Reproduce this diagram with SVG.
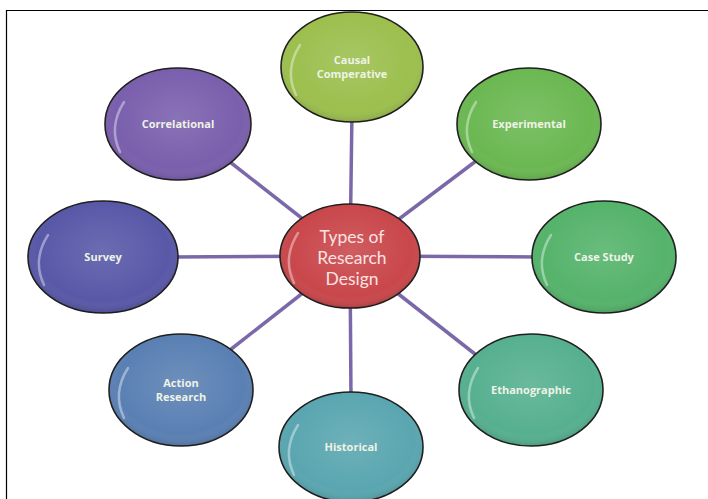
<svg xmlns="http://www.w3.org/2000/svg" width="708" height="499" viewBox="0 0 708 499">
<style>
.n{stroke:#1e1e1e;stroke-width:1.6}
.t{font-family:"Open Sans","Liberation Sans",sans-serif;font-weight:bold;font-size:11px;fill:#eef3e6;text-anchor:middle}
.c{font-family:Lato,"Liberation Sans",sans-serif;font-size:17.5px;fill:#fbe3e3;text-anchor:middle}
.hl{fill:none;stroke:#ffffff;stroke-opacity:0.4;stroke-width:2.5;stroke-linecap:round}
.ln{stroke:#7a68a8;stroke-width:3.5}
</style>
<defs>
<radialGradient id="g" cx="50%" cy="45%" r="55%">
<stop offset="0" stop-color="#fff" stop-opacity="0.12"/>
<stop offset="0.8" stop-color="#fff" stop-opacity="0"/>
<stop offset="1" stop-color="#000" stop-opacity="0.12"/>
</radialGradient>
</defs>
<rect width="708" height="499" fill="#ffffff"/>
<path d="M6.5 499 V10.5 H708" fill="none" stroke="#000" stroke-width="1.2"/>
<g id="connectors">
<line class="ln" x1="350" y1="256" x2="352" y2="110"/>
<line class="ln" x1="350" y1="256" x2="480" y2="158"/>
<line class="ln" x1="350" y1="256" x2="540" y2="257"/>
<line class="ln" x1="350" y1="256" x2="480" y2="358"/>
<line class="ln" x1="350" y1="256" x2="351" y2="400"/>
<line class="ln" x1="350" y1="256" x2="230" y2="350"/>
<line class="ln" x1="350" y1="256" x2="170" y2="257"/>
<line class="ln" x1="350" y1="256" x2="230" y2="162"/>
</g>
<g id="causal">
<ellipse class="n" cx="352" cy="67" rx="71" ry="55" fill="#9cbf4e"/>
<ellipse cx="352" cy="67" rx="71" ry="55" fill="url(#g)"/>
<path class="hl" d="M296 95 Q284 70 300 45"/>
<text class="t" x="352" y="64">Causal</text>
<text class="t" x="352" y="78">Comperative</text>
</g>
<g id="experimental">
<ellipse class="n" cx="529" cy="124" rx="72" ry="56" fill="#6bb852"/>
<ellipse cx="529" cy="124" rx="72" ry="56" fill="url(#g)"/>
<path class="hl" d="M472 152 Q460 127 476 102"/>
<text class="t" x="529" y="128">Experimental</text>
</g>
<g id="casestudy">
<ellipse class="n" cx="604" cy="257" rx="72" ry="56" fill="#55b36b"/>
<ellipse cx="604" cy="257" rx="72" ry="56" fill="url(#g)"/>
<path class="hl" d="M547 285 Q535 260 551 235"/>
<text class="t" x="604" y="261">Case Study</text>
</g>
<g id="ethanographic">
<ellipse class="n" cx="531" cy="390" rx="72" ry="56" fill="#56b090"/>
<ellipse cx="531" cy="390" rx="72" ry="56" fill="url(#g)"/>
<path class="hl" d="M474 418 Q462 393 478 368"/>
<text class="t" x="531" y="394">Ethanographic</text>
</g>
<g id="historical">
<ellipse class="n" cx="351" cy="447" rx="72" ry="55" fill="#5aa6b0"/>
<ellipse cx="351" cy="447" rx="72" ry="55" fill="url(#g)"/>
<path class="hl" d="M294 475 Q282 450 298 425"/>
<text class="t" x="351" y="451">Historical</text>
</g>
<g id="action">
<ellipse class="n" cx="181" cy="390" rx="72" ry="56" fill="#5a80b3"/>
<ellipse cx="181" cy="390" rx="72" ry="56" fill="url(#g)"/>
<path class="hl" d="M124 418 Q112 393 128 368"/>
<text class="t" x="181" y="387">Action</text>
<text class="t" x="181" y="401">Research</text>
</g>
<g id="survey">
<ellipse class="n" cx="103" cy="257" rx="75" ry="56" fill="#5858a8"/>
<ellipse cx="103" cy="257" rx="75" ry="56" fill="url(#g)"/>
<path class="hl" d="M44 285 Q32 260 48 235"/>
<text class="t" x="103" y="261">Survey</text>
</g>
<g id="correlational">
<ellipse class="n" cx="178" cy="124" rx="73" ry="56" fill="#7a5fad"/>
<ellipse cx="178" cy="124" rx="73" ry="56" fill="url(#g)"/>
<path class="hl" d="M120 152 Q108 127 124 102"/>
<text class="t" x="178" y="128">Correlational</text>
</g>
<g id="center">
<ellipse class="n" cx="350" cy="256" rx="70" ry="52" fill="#c9474b"/>
<ellipse cx="350" cy="256" rx="70" ry="52" fill="url(#g)"/>
<path class="hl" d="M294 283 Q282 258 298 233"/>
<text class="c" x="352" y="243">Types of</text>
<text class="c" x="352" y="264">Research</text>
<text class="c" x="352" y="285">Design</text>
</g>
</svg>
